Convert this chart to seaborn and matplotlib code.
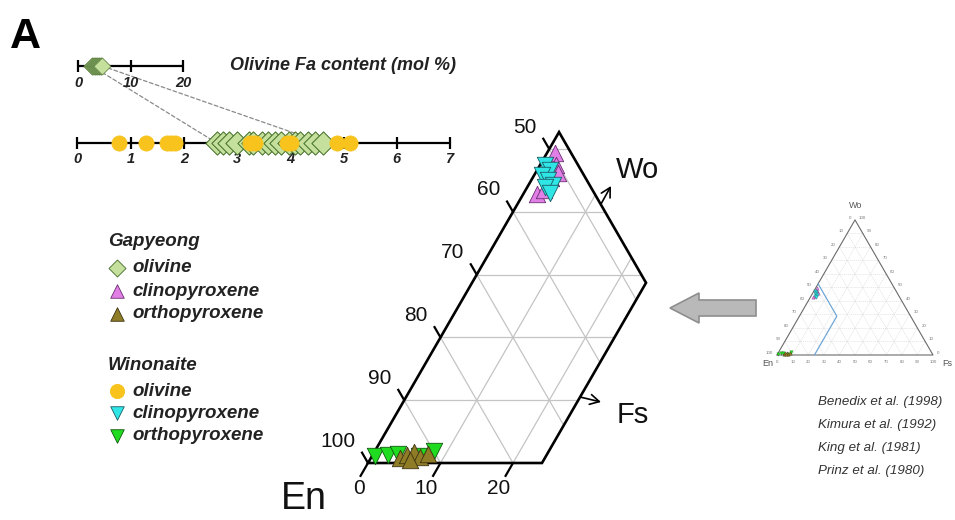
import numpy as np
import matplotlib
matplotlib.use("Agg")
import matplotlib.pyplot as plt
import seaborn as sns
from matplotlib.patches import Polygon, ConnectionPatch

sns.set_theme(style="white")
plt.rcParams["font.family"] = ["Liberation Sans", "DejaVu Sans"]

W, H = 955, 520

# ---- olivine Fa content (mol %) ----
fa_gapyeong = [2.62, 2.74, 2.85, 2.99, 3.22, 3.30, 3.46, 3.58, 3.71, 3.82,
               3.98, 4.09, 4.18, 4.34, 4.46, 4.61]
fa_winonaite = [0.79, 1.29, 1.68, 1.76, 1.84, 3.24, 3.34, 3.93, 4.02, 4.87, 5.12]
fa_ticks_full = [0, 10, 20]
fa_ticks_zoom = [0, 1, 2, 3, 4, 5, 6, 7]

# ---- pyroxene compositions: Fs and Wo (mol %), En = 100 - Fs - Wo ----
gap_cpx_fs = [1.1, 2.2, 3.1, 1.9, 2.5, 2.6]
gap_cpx_wo = [49.4, 47.5, 46.2, 42.8, 43.5, 45.4]
win_cpx_fs = [0.7, 1.8, 1.1, 2.3, 3.4, 2.4, 3.6]
win_cpx_wo = [47.5, 46.7, 45.9, 45.1, 44.3, 44.0, 43.0]
gap_opx_fs = [4.0, 4.7, 5.5, 6.7, 7.6, 5.6]
gap_opx_wo = [0.8, 1.3, 1.7, 1.0, 1.4, 0.5]
win_opx_fs = [0.4, 2.1, 3.4, 6.5, 8.2]
win_opx_wo = [1.1, 1.3, 1.4, 1.1, 1.9]

# enlarged part of the pyroxene quadrilateral (Fs, Wo of its corners)
window_fs = [0, 0, 24, 24]
window_wo = [0, 52.7, 28.7, 0]
en_ticks = [50, 60, 70, 80, 90, 100]
fs_ticks = [0, 10, 20]
grid_steps = [10, 20, 30, 40, 50, 60, 70, 80, 90]

references = ["Benedix et al. (1998)", "Kimura et al. (1992)",
              "King et al. (1981)", "Prinz et al. (1980)"]

# colours
C_OL_GAP, E_OL_GAP = "#c5df9c", "#3f6b24"
C_OL_WIN = "#f7c31c"
C_CPX_GAP, E_CPX_GAP = "#e17fe6", "#6a2f70"
C_OPX_GAP, E_OPX_GAP = "#8e7c27", "#3d3210"
C_CPX_WIN, E_CPX_WIN = "#2fe5e5", "#1a5c64"
C_OPX_WIN, E_OPX_WIN = "#20dc20", "#0f560f"

SQ3 = np.sqrt(3) / 2


def tern(fs, wo):
    fs = np.asarray(fs, float)
    wo = np.asarray(wo, float)
    return fs + wo / 2, wo * SQ3


fig = plt.figure(figsize=(W / 100, H / 100), dpi=100)


def px_axes(x0, y0, x1, y1):
    ax = fig.add_axes([x0 / W, 1 - y1 / H, (x1 - x0) / W, (y1 - y0) / H])
    ax.set_axis_off()
    return ax


# overlay in pixel units for annotations
ov = px_axes(0, 0, W, H)
ov.set_xlim(0, W)
ov.set_ylim(H, 0)

BI = dict(fontweight="bold", fontstyle="italic")

# ---------------- Fa number lines ----------------
ax_top = px_axes(40, 41, 230, 91)
ax_top.set_xlim((40 - 78) / 5.25, (230 - 78) / 5.25)
ax_top.set_ylim(-1.25, 1.25)
ax_top.plot([fa_ticks_full[0], fa_ticks_full[-1]], [0, 0], color="black", lw=1.6, zorder=1)
ax_top.vlines(fa_ticks_full, -0.28, 0.28, color="black", lw=1.6, zorder=1)
for t in fa_ticks_full:
    ax_top.text(t, -0.85, str(t), ha="center", va="center", fontsize=10.5, color="#222", **BI)
sns.scatterplot(x=fa_gapyeong, y=[0] * len(fa_gapyeong), ax=ax_top, marker="D", s=75,
                color=C_OL_GAP, edgecolor="#557a3a", linewidth=0.5, legend=False, zorder=3)

ax_bot = px_axes(40, 118, 480, 168)
ax_bot.set_xlim((40 - 77.3) / 53.25, (480 - 77.3) / 53.25)
ax_bot.set_ylim(-1.25, 1.25)
ax_bot.plot([fa_ticks_zoom[0], fa_ticks_zoom[-1]], [0, 0], color="black", lw=1.6, zorder=1)
ax_bot.vlines(fa_ticks_zoom, -0.28, 0.28, color="black", lw=1.6, zorder=1)
for t in fa_ticks_zoom:
    ax_bot.text(t, -0.78, str(t), ha="center", va="center", fontsize=10.5, color="#222", **BI)
sns.scatterplot(x=fa_gapyeong, y=[0] * len(fa_gapyeong), ax=ax_bot, marker="D", s=140,
                color=C_OL_GAP, edgecolor=E_OL_GAP, linewidth=0.7, legend=False, zorder=3)
sns.scatterplot(x=fa_winonaite, y=[0] * len(fa_winonaite), ax=ax_bot, marker="o", s=120,
                color=C_OL_WIN, edgecolor=C_OL_WIN, linewidth=0.5, legend=False, zorder=4)

# dashed guides from the full scale to the enlarged range
for v in (min(fa_gapyeong), max(fa_gapyeong)):
    cp = ConnectionPatch(xyA=(v, 0), coordsA=ax_top.transData,
                         xyB=(v, 0), coordsB=ax_bot.transData,
                         linestyle=(0, (3, 2)), color="#8a8a8a", lw=0.9, zorder=-1)
    fig.add_artist(cp)

ov.text(230, 66, "Olivine Fa content (mol %)", ha="left", va="center",
        fontsize=13, color="#222", **BI)

# ---------------- legend ----------------
ov.text(108, 241, "Gapyeong", ha="left", va="center", fontsize=13.5, color="#222", **BI)
ov.text(108, 365, "Winonaite", ha="left", va="center", fontsize=13.5, color="#222", **BI)
legend_rows = [
    (268, "D", 75, C_OL_GAP, E_OL_GAP, "olivine"),
    (291, "^", 95, C_CPX_GAP, E_CPX_GAP, "clinopyroxene"),
    (314, "^", 95, C_OPX_GAP, E_OPX_GAP, "orthopyroxene"),
    (391, "o", 105, C_OL_WIN, C_OL_WIN, "olivine"),
    (413, "v", 95, C_CPX_WIN, E_CPX_WIN, "clinopyroxene"),
    (436, "v", 95, C_OPX_WIN, E_OPX_WIN, "orthopyroxene"),
]
for y, mk, s, fc, ec, lab in legend_rows:
    ov.scatter([117], [y], marker=mk, s=s, color=fc, edgecolor=ec, linewidth=0.6, zorder=3)
    ov.text(132, y, lab, ha="left", va="center", fontsize=13.5, color="#222", **BI)

# ---------------- enlarged pyroxene quadrilateral ----------------
ax = px_axes(300, 95, 700, 500)
ax.set_xlim((300 - 368) / 7.25, (700 - 368) / 7.25)
ax.set_ylim((463 - 500) / 7.25, (463 - 95) / 7.25)

wx, wy = tern(window_fs, window_wo)
frame = Polygon(np.column_stack([wx, wy]), closed=True, facecolor="none",
                edgecolor="black", lw=1.9, joinstyle="miter", zorder=2)
ax.add_patch(frame)

grid_kw = dict(color="#c4c4c4", lw=0.9, zorder=1)
for v in grid_steps:
    # constant Wo
    gx, gy = tern([-10, 100], [v, v])
    ln, = ax.plot(gx, gy, **grid_kw)
    ln.set_clip_path(frame)
    # constant Fs
    gx, gy = tern([v, v], [0, 100 - v])
    ln, = ax.plot(gx, gy, **grid_kw)
    ln.set_clip_path(frame)
    # constant En
    gx, gy = tern([0, v], [v, 0])
    ln, = ax.plot(gx, gy, **grid_kw)
    ln.set_clip_path(frame)

for e in en_ticks:
    tx, ty = tern([0, -1.8], [100 - e, 100 - e + 1.8])
    ax.plot(tx, ty, color="black", lw=1.6, zorder=2, solid_capstyle="butt")
    lx, ly = tern(-3.5, 100 - e + 3.5)
    ax.text(lx, ly, str(e), ha="right", va="center", fontsize=15, color="#111")
for f in fs_ticks:
    tx, ty = tern([f, f], [0, -2.2])
    ax.plot(tx, ty, color="black", lw=1.6, zorder=2, solid_capstyle="butt")
    lx, ly = tern(f + 0.9, -2.6)
    ax.text(lx, ly, str(f), ha="right", va="top", fontsize=15, color="#111")

series = [
    (gap_cpx_fs, gap_cpx_wo, "^", C_CPX_GAP, E_CPX_GAP),
    (win_cpx_fs, win_cpx_wo, "v", C_CPX_WIN, E_CPX_WIN),
    (win_opx_fs, win_opx_wo, "v", C_OPX_WIN, E_OPX_WIN),
    (gap_opx_fs, gap_opx_wo, "^", C_OPX_GAP, E_OPX_GAP),
]
for k, (fs, wo, mk, fc, ec) in enumerate(series):
    px, py = tern(fs, wo)
    sns.scatterplot(x=px, y=py, ax=ax, marker=mk, s=140, color=fc, edgecolor=ec,
                    linewidth=0.6, legend=False, zorder=4 + k, clip_on=False)

# axis arrows and end-member labels
for (x0, y0, x1, y1) in [(601, 204, 611, 186), (580, 397, 601, 402)]:
    ov.annotate("", xy=(x1, y1), xytext=(x0, y0),
                arrowprops=dict(arrowstyle="->,head_length=0.55,head_width=0.3", lw=1.2,
                                color="black", shrinkA=0, shrinkB=0))
ov.text(616, 178, "Wo", ha="left", va="baseline", fontsize=21, color="#111")
ov.text(617, 423, "Fs", ha="left", va="baseline", fontsize=21, color="#111")
ov.text(281, 509, "En", ha="left", va="baseline", fontsize=27, color="#111")

# ---------------- full pyroxene triangle (inset) ----------------
ai = px_axes(755, 195, 955, 375)
ai.set_xlim((755 - 777) / 1.56, (955 - 777) / 1.56)
ai.set_ylim((355 - 375) / 1.56, (355 - 195) / 1.56)
for v in grid_steps:
    for fs_pair, wo_pair in (([0, 100 - v], [v, v]), ([v, v], [0, 100 - v]), ([0, v], [v, 0])):
        gx, gy = tern(fs_pair, wo_pair)
        ai.plot(gx, gy, color="#d6d6d6", lw=0.4, linestyle=(0, (2, 1.5)), zorder=1)
ox, oy = tern([0, 100, 0, 0], [0, 0, 100, 0])
ai.plot(ox, oy, color="#6a6a6a", lw=0.8, zorder=2)
tick_vals = [0, 10, 20, 30, 40, 50, 60, 70, 80, 90, 100]
small = dict(fontsize=3.2, color="#777")
for v in tick_vals:
    lx, ly = tern(0, 100 - v)
    ai.text(lx - 2.5, ly + 1.5, str(v), ha="right", va="center", **small)
    rx, ry = tern(100 - v, v)
    ai.text(rx + 2.5, ry + 1.5, str(v), ha="left", va="center", **small)
    bx, by = tern(v, 0)
    ai.text(bx, by - 4.5, str(v), ha="center", va="center", **small)
bl_x, bl_y = tern(window_fs[1:], window_wo[1:])
ai.plot(bl_x, bl_y, color="#6fa6d8", lw=0.9, zorder=3)
for k, (fs, wo, mk, fc, ec) in enumerate(series):
    px, py = tern(fs, wo)
    sns.scatterplot(x=px, y=py, ax=ai, marker=mk, s=6, color=fc, edgecolor=ec,
                    linewidth=0.2, legend=False, zorder=4 + k)
ov.text(856, 205, "Wo", ha="center", va="center", fontsize=6.5, color="#555")
ov.text(768, 363, "En", ha="center", va="center", fontsize=6.5, color="#555")
ov.text(947, 363, "Fs", ha="center", va="center", fontsize=6.5, color="#555")

# grey arrow pointing from the full triangle to the enlarged part
ov.add_patch(Polygon([(670, 308), (699, 293), (699, 300), (756, 300), (756, 316),
                      (699, 316), (699, 323)], closed=True, facecolor="#b9b9b9",
                     edgecolor="#8e8e8e", lw=1.2, zorder=2))

for i, ref in enumerate(references):
    ov.text(818, 402 + 23 * i, ref, ha="left", va="center", fontsize=9.6,
            fontstyle="italic", color="#333")

ov.text(10, 48, "A", ha="left", va="baseline", fontsize=31, fontweight="bold", color="black")

fig.savefig("out.png", dpi=100)
